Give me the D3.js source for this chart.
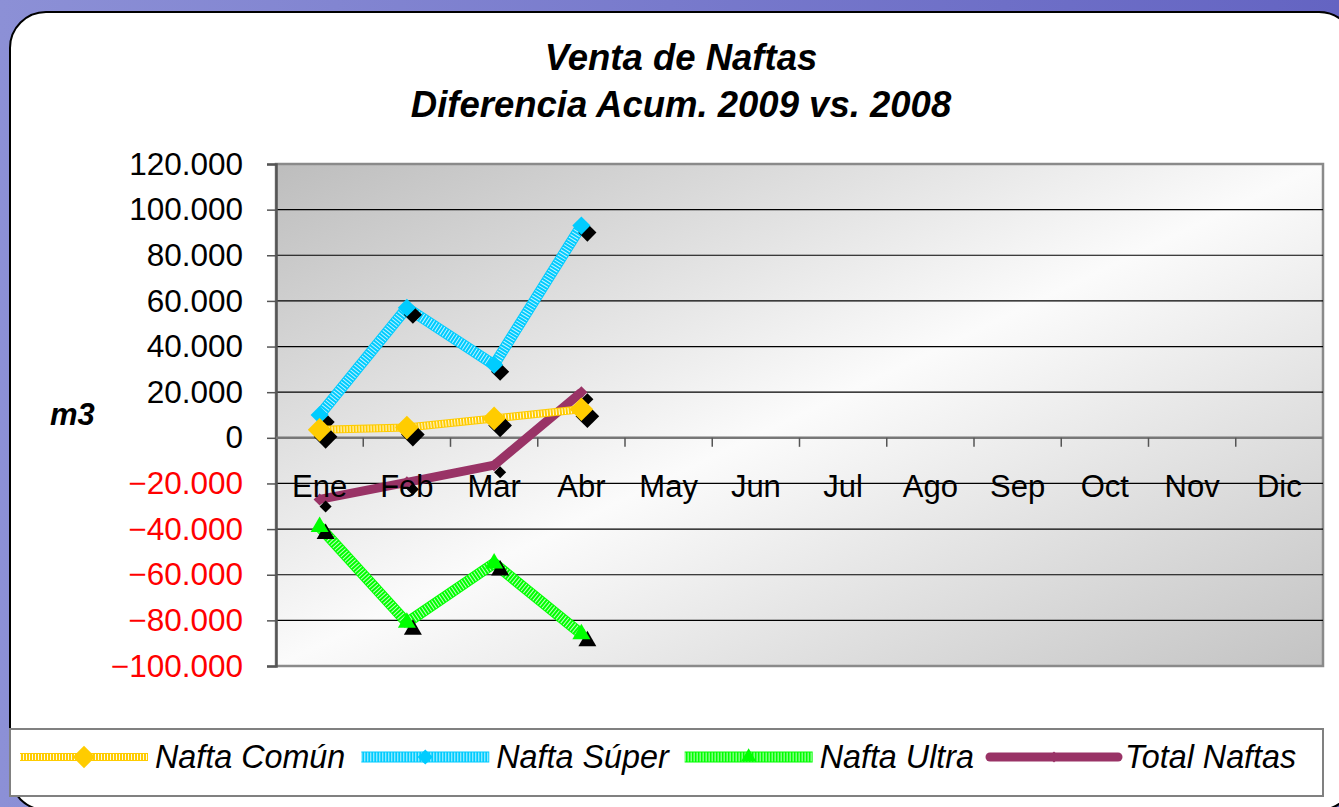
<!DOCTYPE html>
<html>
<head>
<meta charset="utf-8">
<script src="https://cdn.jsdelivr.net/npm/d3@7"></script>
<style>
  html, body { margin: 0; padding: 0; overflow: hidden; }
  text { font-family: "Liberation Sans", Arial, sans-serif; }
</style>
</head>
<body>
<div id="chart"></div>
<script>
// data
var meses = ["Ene", "Feb", "Mar", "Abr", "May", "Jun", "Jul", "Ago", "Sep", "Oct", "Nov", "Dic"];
var naftaComun = [3500, 4500, 8500, 12500];
var naftaSuper = [10000, 57000, 32000, 93000];
var naftaUltra = [-39000, -81000, -55000, -86000];
var totalNaftas = [-27000, -19500, -12000, 20000];
var yTicks = [-100000, -80000, -60000, -40000, -20000, 0, 20000, 40000, 60000, 80000, 100000, 120000];
var nombres = ["Nafta Común", "Nafta Súper", "Nafta Ultra", "Total Naftas"];

var W = 1339, H = 807;
var plot = {left: 276, right: 1323, top: 164, bottom: 666};

var svg = d3.select("#chart").append("svg").attr("width", W).attr("height", H);
var defs = svg.append("defs");

var bg = defs.append("linearGradient").attr("id", "bg").attr("x1", 0).attr("x2", 1).attr("y1", 0).attr("y2", 0);
bg.append("stop").attr("offset", 0).attr("stop-color", "#8c90d6");
bg.append("stop").attr("offset", 1).attr("stop-color", "#6464c2");

var pg = defs.append("linearGradient").attr("id", "plotbg").attr("x1", 0).attr("y1", 0).attr("x2", 1).attr("y2", 1);
pg.append("stop").attr("offset", 0).attr("stop-color", "#bdbdbd");
pg.append("stop").attr("offset", 0.5).attr("stop-color", "#fbfbfb");
pg.append("stop").attr("offset", 1).attr("stop-color", "#c3c3c3");

svg.append("rect").attr("width", W).attr("height", H).attr("fill", "url(#bg)");
svg.append("rect").attr("x", 10).attr("y", 12).attr("width", 1345).attr("height", 798)
  .attr("rx", 36).attr("fill", "#fff").attr("stroke", "#000").attr("stroke-width", 2);

// title
var title = svg.append("text").attr("text-anchor", "middle")
  .style("font-size", "36.5px").style("font-weight", "bold").style("font-style", "italic");
title.append("tspan").attr("x", 681).attr("y", 70).text("Venta de Naftas");
title.append("tspan").attr("x", 681).attr("y", 117).text("Diferencia Acum. 2009 vs. 2008");

svg.append("text").attr("x", 50).attr("y", 425)
  .style("font-size", "31px").style("font-weight", "bold").style("font-style", "italic").text("m3");

var x = d3.scaleBand().domain(meses).range([plot.left, plot.right]);
var y = d3.scaleLinear().domain([-100000, 120000]).range([plot.bottom, plot.top]);

svg.append("rect").attr("x", plot.left).attr("y", plot.top)
  .attr("width", plot.right - plot.left).attr("height", plot.bottom - plot.top)
  .attr("fill", "url(#plotbg)").attr("stroke", "#8a8a8a").attr("stroke-width", 2.5);

// grid
svg.append("g").selectAll("line").data(yTicks.filter(function (d) { return d !== 0 && d !== 120000 && d !== -100000; }))
  .enter().append("line")
  .attr("x1", plot.left).attr("x2", plot.right)
  .attr("y1", function (d) { return y(d); }).attr("y2", function (d) { return y(d); })
  .attr("stroke", "#000").attr("stroke-width", 1.2);

// y axis
var yAxis = svg.append("g").attr("transform", "translate(" + plot.left + ",0)")
  .call(d3.axisLeft(y).tickValues(yTicks).tickSize(9).tickPadding(24)
    .tickFormat(function (d) { return d3.format(",")(d).replace(/,/g, "."); }));
yAxis.select(".domain").attr("stroke", "#555").attr("stroke-width", 2.5);
yAxis.selectAll(".tick line").attr("stroke", "#555").attr("stroke-width", 1.5);
yAxis.selectAll(".tick text")
  .style("font-size", "31.5px").style("font-family", "'Liberation Sans', Arial, sans-serif")
  .attr("fill", function (d) { return d < 0 ? "#ff0000" : "#000"; });

// x axis at zero
var xAxisG = svg.append("g").attr("transform", "translate(0," + y(0) + ")");
xAxisG.append("line").attr("x1", plot.left).attr("x2", plot.right).attr("stroke", "#777").attr("stroke-width", 2.5);
xAxisG.selectAll(".tk").data(meses.slice(1)).enter().append("line")
  .attr("x1", function (d) { return x(d); }).attr("x2", function (d) { return x(d); })
  .attr("y1", 0).attr("y2", 9).attr("stroke", "#555").attr("stroke-width", 1.5);

// series
var series = [
  {name: nombres[3], values: totalNaftas, color: "#993366", width: 9, dotted: false, marker: "diamond", size: 60, speck: 0},
  {name: nombres[2], values: naftaUltra, color: "#00ff00", width: 11, dotted: true, marker: "triangle", size: 140, speck: 0.75},
  {name: nombres[1], values: naftaSuper, color: "#00ccff", width: 11, dotted: true, marker: "diamond", size: 135, speck: 0.75},
  {name: nombres[0], values: naftaComun, color: "#ffcc00", width: 8, dotted: true, marker: "diamond", size: 230, speck: 0.9}
];

function pathD(s) {
  // Excel diamonds: square rotated 45°
  if (s.marker === "diamond") {
    var r = Math.sqrt(s.size) * 0.78;
    return "M0," + (-r) + "L" + r + ",0L0," + r + "L" + (-r) + ",0Z";
  }
  return d3.symbol().type(d3.symbolTriangle).size(s.size)();
}

// white speckles over the coloured stroke (dithered look)
function speckle(g, d, s) {
  g.append("path").attr("d", d).attr("fill", "none").attr("stroke", "#fff")
    .attr("stroke-width", s.width - 2).attr("stroke-dasharray", "1 2").attr("stroke-opacity", s.speck)
    .attr("stroke-linecap", "butt");
}

var line = d3.line()
  .x(function (d, i) { return x(meses[i]) + x.bandwidth() / 2; })
  .y(function (d) { return y(d); });

series.forEach(function (s) {
  var g = svg.append("g");
  var d = line(s.values);
  g.append("path").attr("d", d).attr("fill", "none")
    .attr("stroke", s.color).attr("stroke-width", s.width).attr("stroke-linejoin", "round");
  if (s.dotted) speckle(g, d, s);
  g.selectAll(".sh").data(s.values).enter().append("path")
    .attr("d", pathD(s))
    .attr("transform", function (v, i) { return "translate(" + (x(meses[i]) + x.bandwidth() / 2 + 6) + "," + (y(v) + 7) + ")"; })
    .attr("fill", "#000");
  g.selectAll(".mk").data(s.values).enter().append("path")
    .attr("d", pathD(s))
    .attr("transform", function (v, i) { return "translate(" + (x(meses[i]) + x.bandwidth() / 2) + "," + y(v) + ")"; })
    .attr("fill", s.color);
});

// month labels
svg.append("g").selectAll("text").data(meses).enter().append("text")
  .attr("x", function (d) { return x(d) + x.bandwidth() / 2; })
  .attr("y", 497).attr("text-anchor", "middle").style("font-size", "31px").text(function (d) { return d; });

// legend
svg.append("rect").attr("x", 10).attr("y", 729).attr("width", 1313).attr("height", 67)
  .attr("fill", "#fff").attr("stroke", "#808080").attr("stroke-width", 2);
var legSeries = series.slice().reverse();
var lx = 20;
legSeries.forEach(function (s) {
  var g = svg.append("g");
  var d = "M" + lx + ",757H" + (lx + 128);
  g.append("path").attr("d", d).attr("fill", "none")
    .attr("stroke", s.color).attr("stroke-width", s.width).attr("stroke-linecap", s.dotted ? "butt" : "round");
  if (s.dotted) speckle(g, d, s);
  var k = s.color === "#993366" ? 0.8 : s.color === "#ffcc00" ? 0.9 : 0.7;
  var ls = Object.assign({}, s, {size: s.size * k});
  g.append("path").attr("d", pathD(ls)).attr("transform", "translate(" + (lx + 64) + ",757)").attr("fill", s.color);
  var t = g.append("text").attr("x", lx + 135).attr("y", 768)
    .style("font-size", "32.3px").style("font-style", "italic").text(s.name);
  lx = lx + 135 + t.node().getComputedTextLength() + 16;
});
</script>
</body>
</html>
